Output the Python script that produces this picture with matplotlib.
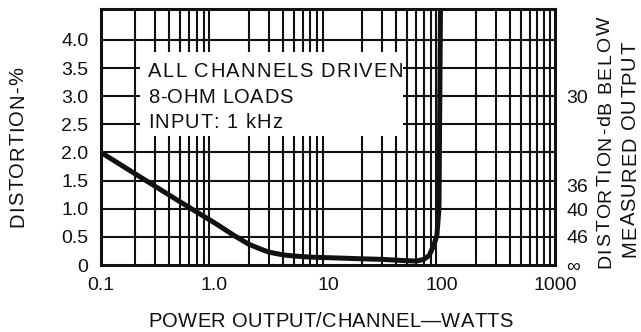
import matplotlib
matplotlib.use("Agg")
import matplotlib.pyplot as plt
from matplotlib.patches import Rectangle
from matplotlib import font_manager
from matplotlib.font_manager import FontProperties, findfont, get_font

# ---- data ----
power_w = [0.1, 0.2, 0.5, 1.0, 1.5, 2.0, 2.5, 3.0, 4.0, 5.0, 7.0, 10, 20, 30,
           45, 60, 70, 78, 85, 91, 95, 98]
distortion_pct = [2.0, 1.62, 1.12, 0.75, 0.52, 0.37, 0.29, 0.23, 0.18, 0.16,
                  0.14, 0.13, 0.11, 0.10, 0.08, 0.07, 0.10, 0.17, 0.34, 0.52,
                  1.0, 4.6]

x_ticks = [0.1, 1, 10, 100, 1000]
x_tick_labels = ["0.1", "1.0", "10", "100", "1000"]
y_ticks = [0, 0.5, 1.0, 1.5, 2.0, 2.5, 3.0, 3.5, 4.0]
y_tick_labels = ["0", "0.5", "1.0", "1.5", "2.0", "2.5", "3.0", "3.5", "4.0"]
db_ticks = [3.0, 1.42, 0.98, 0.5, 0.0]
db_labels = ["30", "36", "40", "46", "\u221e"]

note_lines = ["ALL CHANNELS DRIVEN", "8-OHM LOADS", "INPUT: 1 kHz"]
x_title = "POWER OUTPUT/CHANNEL\u2014WATTS"
y_title = "DISTORTION-%"
y2_title = ["DISTORTION-dB BELOW", "MEASURED OUTPUT"]

# ---- style ----
W, H, DPI = 641, 332, 100
INK = "#111111"
names = {f.name for f in font_manager.fontManager.ttflist}
NARROW = "Liberation Sans Narrow" if "Liberation Sans Narrow" in names else "Liberation Sans"
plt.rcParams["font.family"] = ["Liberation Sans", "DejaVu Sans"]

fig = plt.figure(figsize=(W / DPI, H / DPI), dpi=DPI, facecolor="white")
ax = fig.add_axes([101 / W, 67 / H, 454 / W, 256 / H])
ax.set_xscale("log")
ax.set_xlim(0.1, 1000)
ax.set_ylim(0, 4.55)

# chart-paper grid: 2..9 in every decade, 0.5 % steps vertically
minor_x = [k * 10.0 ** e for e in range(-1, 3) for k in range(2, 10)]
for xv in minor_x:
    ax.axvline(xv, color=INK, lw=1.5, zorder=1)
for yv in y_ticks[1:]:
    ax.axhline(yv, color=INK, lw=1.5, zorder=1)

# blank panel behind the test conditions
ax.add_patch(Rectangle((0.22, 2.29), 46 - 0.22, 3.78 - 2.29, facecolor="white",
                       edgecolor="none", zorder=2))

ax.plot(power_w, distortion_pct, color=INK, lw=3.6, zorder=3,
        solid_joinstyle="round", solid_capstyle="butt")

for sp in ax.spines.values():
    sp.set_linewidth(2.2)
    sp.set_color(INK)
    sp.set_zorder(4)

tick_fp = FontProperties(family=["Liberation Sans", "DejaVu Sans"], size=14)
ax.set_xticks(x_ticks)
ax.set_xticklabels(x_tick_labels, fontproperties=tick_fp, color=INK)
ax.xaxis.set_minor_locator(matplotlib.ticker.NullLocator())
ax.set_yticks(y_ticks)
ax.set_yticklabels(y_tick_labels, fontproperties=tick_fp, color=INK)
ax.tick_params(axis="both", length=0)
ax.tick_params(axis="x", pad=9)
ax.tick_params(axis="y", pad=9)

ax2 = ax.twinx()
ax2.set_ylim(ax.get_ylim())
ax2.set_yticks(db_ticks)
ax2.set_yticklabels(db_labels, fontproperties=tick_fp, color=INK)
ax2.tick_params(axis="y", length=0, pad=8)
for sp in ax2.spines.values():
    sp.set_visible(False)


def spaced(s, start, end, base, size, vertical=False, weight="normal"):
    """Draw s letter by letter, spread evenly between start and end (pixels)."""
    fp = FontProperties(family=[NARROW, "DejaVu Sans"], size=size, weight=weight)
    font = get_font(findfont(fp))
    font.set_size(size, DPI)
    adv = [font.load_char(ord(c)).linearHoriAdvance / 65536 for c in s]
    gap = ((end - start) - sum(adv)) / (len(s) - 1)
    pos = start
    for c, a in zip(s, adv):
        if vertical:
            px, py, rot = base, pos, 90
        else:
            px, py, rot = pos, base, 0
        fig.text(px / W, py / H, c, fontproperties=fp, rotation=rot,
                 rotation_mode="anchor", ha="left", va="baseline", color=INK,
                 zorder=5)
        pos += a + gap


# test conditions
spaced(note_lines[0], 148, 403, 255, 14.5)
spaced(note_lines[1], 148, 293, 229, 14.5)
spaced(note_lines[2], 148, 282, 204, 14.5)

# axis titles
spaced(x_title, 148, 513, 5, 14.5)
spaced(y_title, 105, 265, 23, 14.5, vertical=True)
spaced(y2_title[0], 64, 315, 610, 14, vertical=True)
spaced(y2_title[1], 75, 290, 635, 14.5, vertical=True)

fig.savefig("out.png", dpi=DPI, facecolor="white")
